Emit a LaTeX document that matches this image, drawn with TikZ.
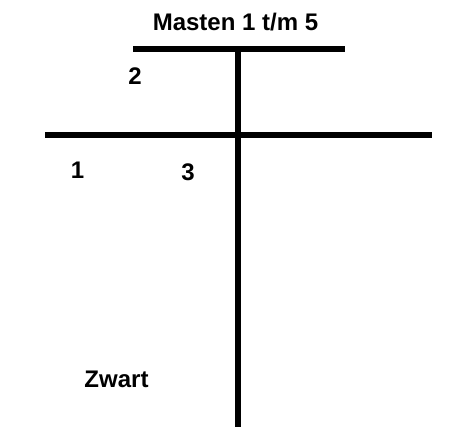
\documentclass[tikz,border=0pt]{standalone}
\usepackage{fontspec}
\setmainfont{Liberation Sans}
\usepackage{tikz}
\usetikzlibrary{positioning,calc}

\tikzset{
  mast/.style={line width=5.5pt},
  lbl/.style={font=\fontsize{24}{28}\selectfont\bfseries, anchor=base, inner sep=0pt}
}

\begin{document}
\begin{tikzpicture}[x=1pt, y=-1pt]
\useasboundingbox (0,0) rectangle (463,427);
% masts
\coordinate (topl) at (133,49);
\coordinate (topr) at (345,49);
\coordinate (midl) at (45,135);
\coordinate (midr) at (432,135);
\coordinate (poletop) at (238,47);
\coordinate (polebot) at (238,427);
\draw[mast] (topl) -- (topr);
\draw[mast] (midl) -- (midr);
\draw[mast] (poletop) -- (polebot);
% labels
\node[lbl] (title) at (235.5,31) {Masten 1 t/m 5};
\node[lbl] (two) at (135,85) {2};
\node[lbl] (one) at (77.5,179) {1};
\node[lbl] (three) at (188,181) {3};
\node[lbl] (zwart) at (116.5,388) {Zwart};
\end{tikzpicture}
\end{document}
